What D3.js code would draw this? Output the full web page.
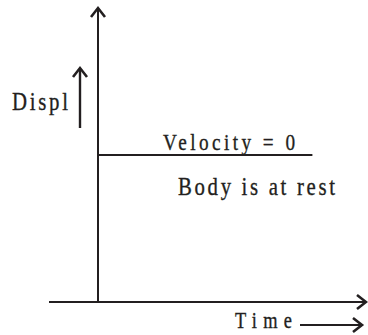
<!DOCTYPE html>
<html>
<head>
<meta charset="utf-8">
<script src="https://cdn.jsdelivr.net/npm/d3@7"></script>
<style>
  html, body { margin: 0; padding: 0; background: #fff; }
  svg { display: block; }
  text { font-family: "Liberation Serif", "Times New Roman", Times, serif; fill: #231f20; }
</style>
</head>
<body>
<div id="chart"></div>
<script>
// Displacement stays constant over time: body at rest
const times = [0, 8]
const displacement = [5, 5]
const xDomain = [0, 10]
const yDomain = [0, 10]
const labels = { y: "Displ", x: "Time", above: "Velocity = 0", below: "Body is at rest" }

const width = 368
const height = 335
const ink = "#231f20"

const svg = d3.select("#chart").append("svg")
  .attr("width", width).attr("height", height)

const x = d3.scaleLinear().domain(xDomain).range([98, 366])
const y = d3.scaleLinear().domain(yDomain).range([302, 8])

// open chevron arrowhead pointing along a direction
function chevron(tx, ty, dir) {
  const a = 9, b = 7
  const pts = dir === "up"
    ? [[tx - b, ty + a], [tx, ty], [tx + b, ty + a]]
    : [[tx - a, ty - b], [tx, ty], [tx - a, ty + b]]
  svg.append("path").attr("d", d3.line()(pts))
    .attr("fill", "none").attr("stroke", ink).attr("stroke-width", 2.6)
    .attr("stroke-linejoin", "miter")
}

// condensed, letter-spaced label like the scanned figure
function label(tx, ty, size, len, str) {
  const sx = 0.8
  svg.append("text")
    .attr("transform", `translate(${tx},${ty}) scale(${sx},1)`)
    .attr("font-size", size)
    .attr("stroke", ink).attr("stroke-width", 0.35)
    .attr("textLength", len / sx).attr("lengthAdjust", "spacing")
    .text(str)
}

// Axes
svg.append("line")
  .attr("x1", x(0)).attr("x2", x(0))
  .attr("y1", y(0)).attr("y2", y(10) + 1)
  .attr("stroke", ink).attr("stroke-width", 2)
chevron(x(0), y(10), "up")

svg.append("line")
  .attr("x1", 49).attr("x2", x(10) - 1)
  .attr("y1", y(0)).attr("y2", y(0))
  .attr("stroke", ink).attr("stroke-width", 2)
chevron(x(10), y(0), "right")

// Constant displacement line
svg.append("path")
  .datum(times.map((t, i) => [t, displacement[i]]))
  .attr("d", d3.line().x(d => x(d[0])).y(d => y(d[1])))
  .attr("fill", "none").attr("stroke", ink).attr("stroke-width", 1.8)

// Labels
label(163, 150, 24, 132, labels.above)
label(178, 195, 26, 157, labels.below)
label(12, 110, 26, 56, labels.y)
label(235, 328, 23, 57, labels.x)

// Small direction arrows beside labels
svg.append("line").attr("x1", 80).attr("x2", 80).attr("y1", 128).attr("y2", 69)
  .attr("stroke", ink).attr("stroke-width", 2.4)
chevron(80, 68, "up")
svg.append("line").attr("x1", 300).attr("x2", 360).attr("y1", 325).attr("y2", 325)
  .attr("stroke", ink).attr("stroke-width", 2.2)
chevron(362, 325, "right")
</script>
</body>
</html>
